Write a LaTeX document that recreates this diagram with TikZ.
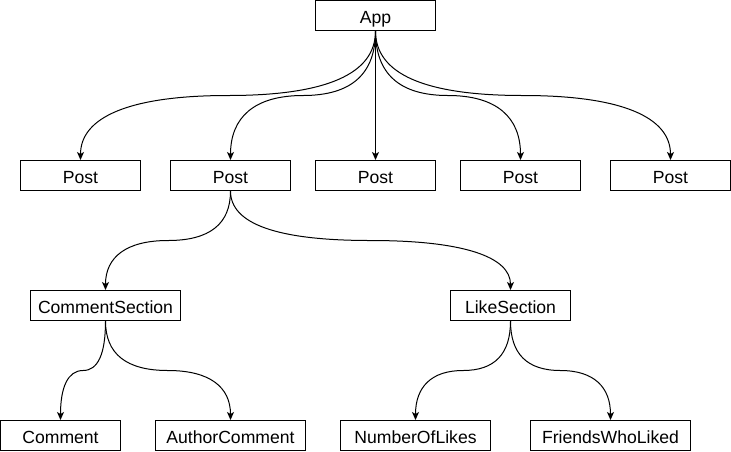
\documentclass[tikz,border=0pt]{standalone}
\usepackage{fontspec}
\setmainfont{Liberation Sans}
\usetikzlibrary{arrows.meta,calc}

\begin{document}
\begin{tikzpicture}[
  x=0.75pt, y=-0.75pt,
  box/.style={
    draw,
    rectangle,
    line width=0.75pt,
    inner sep=0pt,
    minimum width=90pt,
    minimum height=22.5pt,
    text height=12pt,
    text depth=0pt,
    font=\fontsize{13.2}{16}\selectfont
  },
  arrow/.style={-{Stealth[length=6pt,width=5.25pt,inset=1.5pt]}, line width=0.75pt},
  link/.style={to path={
    let \p1=(\tikztostart), \p2=(\tikztotarget) in
    .. controls (\x1,{\y1+(\y2-\y1)/3}) and ({\x1+(\x2-\x1)/6},{(\y1+\y2)/2})
    .. ({(\x1+\x2)/2},{(\y1+\y2)/2})
    .. controls ({\x2-(\x2-\x1)/6},{(\y1+\y2)/2}) and (\x2,{\y2-(\y2-\y1)/3})
    .. (\tikztotarget)}}
]
\useasboundingbox (-0.5,-0.5) rectangle (730.5,450.5);

\node[box] (app)   at (375,15)  {App};

\node[box] (post1) at (80,175)  {Post};
\node[box] (post2) at (230,175) {Post};
\node[box] (post3) at (375,175) {Post};
\node[box] (post4) at (520,175) {Post};
\node[box] (post5) at (670,175) {Post};

\node[box, minimum width=112.5pt] (comments) at (105,305) {CommentSection};
\node[box] (likes) at (510,305) {LikeSection};

\node[box] (comment) at (60,435) {Comment};
\node[box, minimum width=112.5pt] (author) at (230,435) {AuthorComment};
\node[box, minimum width=112.5pt] (count)  at (415,435) {NumberOfLikes};
\node[box, minimum width=120pt]   (friends) at (610,435) {FriendsWhoLiked};

\draw[arrow] (app.south) to[link] (post1.north);
\draw[arrow] (app.south) to[link] (post2.north);
\draw[arrow] (app.south) -- (post3.north);
\draw[arrow] (app.south) to[link] (post4.north);
\draw[arrow] (app.south) to[link] (post5.north);

\draw[arrow] (post2.south) to[link] (comments.north);
\draw[arrow] (post2.south) to[link] (likes.north);

\draw[arrow] (comments.south) to[link] (comment.north);
\draw[arrow] (comments.south) to[link] (author.north);
\draw[arrow] (likes.south) to[link] (count.north);
\draw[arrow] (likes.south) to[link] (friends.north);

\end{tikzpicture}
\end{document}
